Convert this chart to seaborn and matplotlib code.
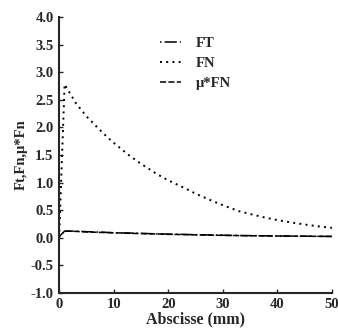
import pandas as pd
import matplotlib
matplotlib.use("Agg")
import matplotlib.pyplot as plt
import seaborn as sns

# values
abscisse = [0, 1, 3, 5, 8, 10, 13, 15, 18, 20, 23, 25, 28, 30, 33, 35, 38, 40, 43, 45, 48, 50]
fn = [0.0, 2.78, 2.45, 2.2, 1.9, 1.72, 1.48, 1.34, 1.15, 1.04, 0.9, 0.8, 0.67, 0.59, 0.48, 0.43, 0.36, 0.32, 0.27, 0.24, 0.2, 0.18]
ft = [0.02, 0.12, 0.12, 0.11, 0.1, 0.09, 0.085, 0.08, 0.07, 0.065, 0.06, 0.055, 0.05, 0.045, 0.04, 0.038, 0.035, 0.032, 0.03, 0.028, 0.025, 0.024]
mu_fn = [0.02, 0.12, 0.115, 0.105, 0.095, 0.09, 0.08, 0.075, 0.068, 0.062, 0.057, 0.052, 0.047, 0.043, 0.039, 0.036, 0.033, 0.031, 0.029, 0.027, 0.025, 0.023]

x_ticks = [0, 10, 20, 30, 40, 50]
y_ticks = [-1.0, -0.5, 0.0, 0.5, 1.0, 1.5, 2.0, 2.5, 3.0, 3.5, 4.0]

sns.set_style("ticks")
plt.rcParams['font.family'] = ['Liberation Serif', 'DejaVu Serif']

fig = plt.figure(figsize=(3.38, 3.28), dpi=100)
ax = fig.add_axes([0.175, 0.107, 0.807, 0.841])

sns.lineplot(x=abscisse, y=ft, ax=ax, color='black', lw=1.1, label='FT')
sns.lineplot(x=abscisse, y=fn, ax=ax, color='black', lw=1.4, label='FN')
sns.lineplot(x=abscisse, y=mu_fn, ax=ax, color='black', lw=1.1, label='μ*FN')
ax.lines[0].set_dashes([1, 2, 8, 2])
ax.lines[1].set_dashes([1, 2.2])
ax.lines[2].set_dashes([4, 1.5])

ax.set_xlim(0, 50)
ax.set_ylim(-1.0, 4.0)
ax.set_xticks(x_ticks)
ax.set_yticks(y_ticks)
ax.set_yticklabels([f"{v:.1f}" for v in y_ticks])
ax.tick_params(direction='in', length=3, width=1, labelsize=10.5, pad=4)
for lab in ax.get_xticklabels() + ax.get_yticklabels():
    lab.set_fontweight('bold')
for s in ['left', 'bottom']:
    ax.spines[s].set_linewidth(1.5)
sns.despine(ax=ax)

ax.set_xlabel("Abscisse (mm)", fontsize=11.5, fontweight='bold', labelpad=0)
ax.set_ylabel("Ft,Fn,μ*Fn", fontsize=10.5, fontweight='bold', labelpad=2)

leg = ax.legend(loc='upper left', bbox_to_anchor=(0.32, 0.975), frameon=False,
                handlelength=1.5, labelspacing=0.45, fontsize=10.5, handletextpad=1.0)
for t in leg.get_texts():
    t.set_fontweight('bold')

fig.savefig("out.png", dpi=100)
